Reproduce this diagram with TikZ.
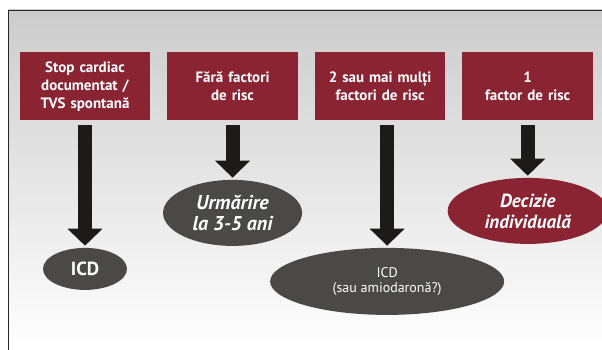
\documentclass[tikz,border=0pt]{standalone}
\usepackage{fontspec}
\setmainfont{PT Sans}
\usetikzlibrary{positioning,chains,shapes.geometric,arrows.meta}
\definecolor{boxred}{HTML}{8A2432}
\definecolor{ovalgray}{HTML}{4B4848}
\definecolor{arrowblack}{HTML}{1E1A19}
\tikzset{
  casebox/.style={
    rectangle,
    fill=boxred,
    text=white,
    minimum width=130pt,
    minimum height=68pt,
    text width=124pt,
    align=center,
    font=\bfseries\fontsize{15}{17.7}\selectfont,
    on chain},
  outcome/.style={
    ellipse,
    fill=ovalgray,
    text=white,
    inner sep=0pt,
    align=center},
  blockarrow/.style={draw=arrowblack, line width=14pt,
    -{Triangle[width=34pt,length=17pt]}, shorten <=4pt, shorten >=2pt},
}
\begin{document}
\begin{tikzpicture}
  [x=1pt, y=-1pt,
  node distance=16.5pt,
  start chain=going right,]
  \useasboundingbox (0,0) rectangle (602,350);
  % background panel
  \shade[top color=black!20, bottom color=white] (8,10) rectangle (602,350);
  \draw[line width=0.9pt, black!85] (8,350) -- (8,10) -- (602,10);
  % top row
  \node[casebox] at (85,86.5) (stop) {Stop cardiac\\documentat /\\TVS spontană};
  \node[casebox] (none) {Fără factori\\de risc};
  \node[casebox] (multi) {2 sau mai mulți\\factori de risc};
  \node[casebox] (one) {1\\factor de risc};
  % outcomes
  \node[outcome, minimum width=84pt, minimum height=42pt,
    font=\bfseries\fontsize{19}{22}\selectfont,
    below=127pt of stop] (icd) {ICD};
  \node[outcome, minimum width=139pt, minimum height=66pt,
    font=\bfseries\itshape\fontsize{20}{21.5}\selectfont,
    below=59pt of none] (follow) {Urmărire\\la 3-5 ani};
  \node[outcome, minimum width=234pt, minimum height=67pt,
    font=\fontsize{14}{14.5}\selectfont,
    below=127pt of multi, xshift=7pt] (icdamio) {ICD\\(sau amiodaronă?)};
  \node[outcome, fill=boxred, minimum width=160pt, minimum height=66pt,
    font=\bfseries\itshape\fontsize{19}{21}\selectfont,
    below=57pt of one] (decide) {Decizie\\individuală};
  % arrows
  \draw[blockarrow] (stop) -- (icd);
  \draw[blockarrow] (none) -- (follow);
  \draw[blockarrow] (multi.south -| icdamio.north) -- (icdamio.north);
  \draw[blockarrow] (one) -- (decide);
\end{tikzpicture}
\end{document}
